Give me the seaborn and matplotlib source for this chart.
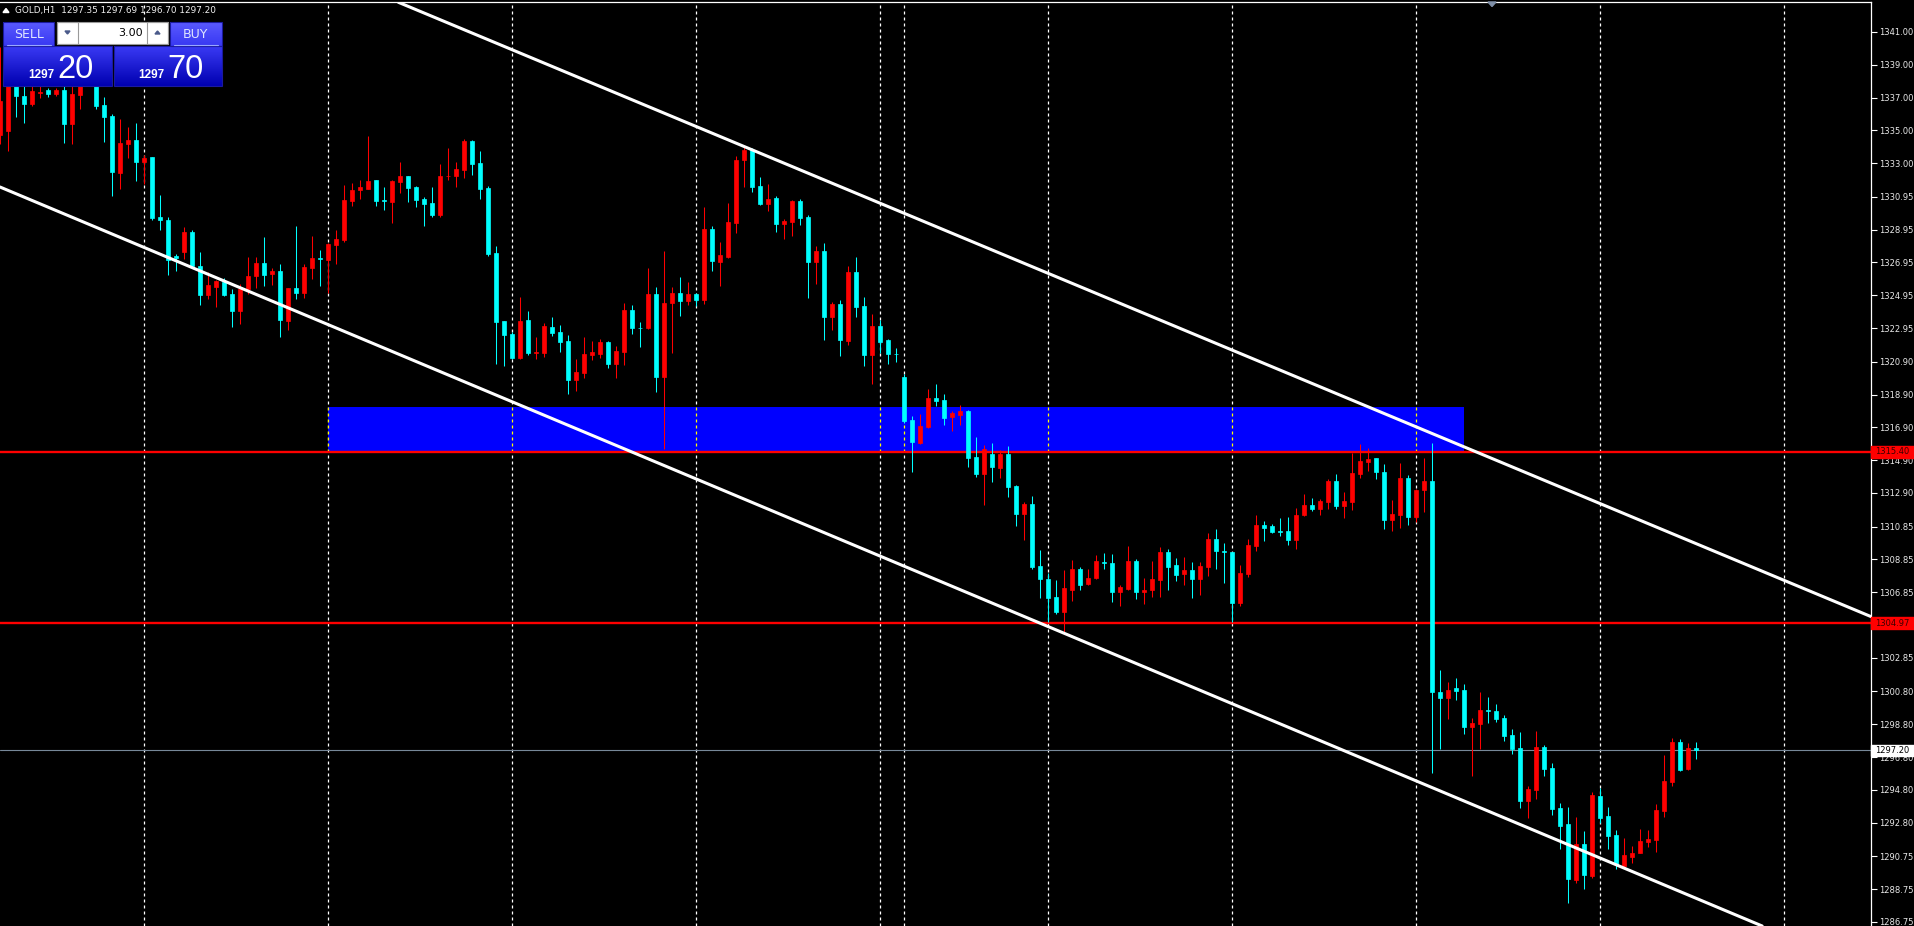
import numpy as np
import matplotlib
matplotlib.use("Agg")
import matplotlib.pyplot as plt
import matplotlib.transforms as mtransforms
from matplotlib.colors import LinearSegmentedColormap
from matplotlib.patches import Rectangle, Polygon
import seaborn as sns

# --- chart data (GOLD, H1) ---
symbol = "GOLD,H1"

opens = [
    1334.70, 1334.96, 1338.00, 1337.10, 1336.61, 1337.28, 1337.44, 1337.20, 1337.44, 1335.39,
    1337.14, 1338.40, 1338.10, 1336.53, 1335.86, 1332.38, 1334.17, 1334.40, 1333.10, 1333.36,
    1329.70, 1329.52, 1327.32, 1327.59, 1328.79, 1326.76, 1324.95, 1325.46, 1325.76, 1325.01,
    1323.98, 1325.36, 1326.13, 1326.90, 1326.27, 1326.41, 1323.39, 1325.38, 1325.09, 1326.64,
    1327.21, 1327.10, 1328.02, 1328.30, 1330.70, 1331.39, 1331.43, 1331.96, 1330.74, 1330.64,
    1331.86, 1332.20, 1331.55, 1330.80, 1330.56, 1329.83, 1332.20, 1332.22, 1332.59, 1334.34,
    1332.99, 1331.49, 1327.51, 1323.37, 1322.58, 1321.11, 1323.43, 1321.42, 1321.42, 1323.00,
    1322.70, 1322.15, 1319.77, 1320.20, 1321.30, 1321.36, 1322.09, 1320.75, 1321.48, 1324.04,
    1322.98, 1322.94, 1325.01, 1319.96, 1324.47, 1325.07, 1324.59, 1325.01, 1324.65, 1328.97,
    1326.96, 1327.27, 1329.34, 1333.18, 1333.79, 1331.60, 1330.50, 1330.86, 1329.28, 1329.40,
    1330.68, 1329.71, 1326.96, 1327.63, 1323.61, 1324.40, 1322.15, 1326.35, 1324.28, 1321.30,
    1323.06, 1322.21, 1321.40, 1319.96, 1317.34, 1315.93, 1316.91, 1318.68, 1318.55, 1317.50,
    1317.64, 1317.90, 1315.08, 1314.06, 1315.26, 1314.43, 1315.26, 1313.31, 1311.63, 1312.22,
    1308.42, 1307.64, 1306.55, 1305.65, 1306.99, 1308.25, 1307.36, 1307.71, 1308.70, 1308.62,
    1306.87, 1307.05, 1308.74, 1306.87, 1306.99, 1307.60, 1309.29, 1308.50, 1307.97, 1308.19,
    1307.66, 1308.40, 1310.08, 1309.37, 1309.29, 1306.20, 1307.97, 1309.67, 1310.94, 1310.88,
    1310.58, 1310.57, 1310.04, 1311.55, 1312.16, 1311.91, 1312.36, 1313.62, 1312.11, 1312.36,
    1314.06, 1314.79, 1315.02, 1314.18, 1311.26, 1311.56, 1313.82, 1311.44, 1313.09, 1313.62,
    1300.78, 1300.41, 1301.00, 1300.88, 1298.64, 1298.83, 1299.66, 1299.60, 1299.18, 1298.14,
    1297.35, 1294.14, 1294.81, 1297.41, 1296.13, 1293.69, 1292.73, 1289.32, 1291.50, 1289.57,
    1294.42, 1293.20, 1292.05, 1290.17, 1290.72, 1290.97, 1291.64, 1291.76, 1293.53, 1295.29,
    1297.71, 1296.09, 1297.35,
]
highs = [
    1340.07, 1338.30, 1338.30, 1337.70, 1337.70, 1337.70, 1337.60, 1337.60, 1337.70, 1337.80,
    1338.50, 1338.90, 1338.60, 1337.04, 1335.98, 1335.72, 1335.19, 1335.43, 1333.52, 1333.40,
    1331.04, 1329.72, 1327.49, 1329.09, 1328.91, 1327.57, 1326.35, 1325.86, 1326.03, 1325.34,
    1325.66, 1327.27, 1327.27, 1328.48, 1326.60, 1326.84, 1325.42, 1329.16, 1326.84, 1328.55,
    1327.69, 1328.12, 1328.91, 1331.65, 1331.78, 1331.96, 1334.64, 1331.96, 1331.53, 1331.96,
    1333.05, 1332.20, 1331.59, 1330.94, 1331.53, 1332.93, 1333.91, 1333.05, 1334.50, 1334.44,
    1333.73, 1331.59, 1327.94, 1323.40, 1322.70, 1324.83, 1323.98, 1322.39, 1323.25, 1323.61,
    1323.12, 1322.52, 1321.05, 1322.39, 1322.15, 1322.27, 1322.15, 1321.84, 1324.47, 1324.34,
    1323.31, 1326.60, 1325.44, 1327.63, 1325.44, 1326.05, 1325.74, 1325.07, 1330.32, 1329.16,
    1328.18, 1330.56, 1333.42, 1333.97, 1333.91, 1332.14, 1331.72, 1330.99, 1329.58, 1330.74,
    1330.80, 1329.83, 1327.94, 1328.12, 1324.53, 1324.65, 1326.72, 1327.27, 1324.83, 1323.79,
    1323.43, 1322.27, 1321.72, 1320.14, 1317.58, 1317.70, 1319.22, 1319.53, 1318.92, 1317.90,
    1318.25, 1317.94, 1316.30, 1315.80, 1315.93, 1315.51, 1315.75, 1313.37, 1312.34, 1312.70,
    1309.41, 1308.03, 1307.58, 1308.19, 1308.80, 1308.38, 1308.25, 1309.11, 1309.23, 1309.17,
    1307.28, 1309.66, 1308.86, 1307.71, 1308.74, 1309.60, 1309.47, 1308.93, 1308.99, 1308.68,
    1308.68, 1310.45, 1310.69, 1309.84, 1309.29, 1308.50, 1310.08, 1311.55, 1311.18, 1311.00,
    1311.36, 1311.42, 1311.97, 1312.83, 1312.58, 1312.52, 1313.74, 1314.04, 1312.95, 1315.32,
    1315.87, 1315.63, 1315.05, 1314.65, 1312.48, 1314.71, 1313.98, 1313.15, 1315.02, 1315.93,
    1302.10, 1301.37, 1301.61, 1301.25, 1299.18, 1300.76, 1300.46, 1300.03, 1299.36, 1298.50,
    1298.32, 1295.03, 1298.38, 1297.53, 1296.43, 1294.00, 1293.75, 1293.14, 1292.29, 1294.67,
    1294.91, 1293.75, 1292.35, 1291.86, 1291.37, 1292.41, 1292.35, 1293.95, 1296.92, 1297.96,
    1297.90, 1297.65, 1297.69,
]
lows = [
    1334.19, 1333.75, 1335.82, 1335.45, 1336.49, 1337.00, 1337.04, 1337.10, 1334.23, 1334.17,
    1336.28, 1337.70, 1336.30, 1334.29, 1331.00, 1331.41, 1333.32, 1331.92, 1331.71, 1329.54,
    1328.91, 1326.19, 1326.43, 1327.15, 1326.68, 1324.36, 1324.73, 1324.24, 1324.91, 1323.02,
    1323.20, 1325.05, 1325.40, 1325.52, 1325.56, 1322.41, 1322.84, 1324.73, 1324.79, 1325.95,
    1325.52, 1325.09, 1326.86, 1328.20, 1330.39, 1330.82, 1331.43, 1330.39, 1330.15, 1329.36,
    1331.19, 1330.64, 1330.33, 1329.18, 1329.72, 1329.72, 1331.99, 1331.53, 1332.10, 1332.26,
    1330.82, 1327.35, 1320.75, 1320.63, 1321.05, 1321.05, 1321.30, 1321.05, 1321.17, 1322.45,
    1321.48, 1318.92, 1319.10, 1319.89, 1320.99, 1321.11, 1320.50, 1319.89, 1320.69, 1322.58,
    1321.78, 1322.88, 1319.04, 1315.57, 1321.42, 1323.67, 1324.34, 1324.28, 1324.40, 1326.42,
    1325.50, 1327.21, 1328.73, 1331.53, 1331.23, 1330.44, 1330.07, 1328.79, 1328.37, 1328.55,
    1329.22, 1324.77, 1325.62, 1322.21, 1322.82, 1321.24, 1321.91, 1323.61, 1320.63, 1319.53,
    1321.42, 1320.75, 1320.87, 1317.15, 1314.18, 1315.87, 1316.85, 1318.19, 1317.03, 1316.68,
    1317.03, 1314.49, 1313.88, 1312.16, 1313.58, 1313.82, 1312.66, 1310.89, 1310.04, 1308.27,
    1306.51, 1305.04, 1305.53, 1304.37, 1306.32, 1306.99, 1307.30, 1307.67, 1308.27, 1306.26,
    1306.02, 1306.99, 1306.45, 1306.14, 1306.57, 1306.57, 1306.99, 1307.54, 1307.30, 1306.51,
    1306.69, 1307.85, 1308.27, 1307.42, 1305.04, 1306.02, 1307.79, 1309.37, 1309.98, 1310.47,
    1310.28, 1309.74, 1309.49, 1311.50, 1311.81, 1311.56, 1311.93, 1311.91, 1311.38, 1311.87,
    1313.84, 1314.25, 1313.76, 1310.71, 1310.59, 1310.77, 1310.95, 1311.10, 1311.75, 1295.84,
    1297.30, 1299.11, 1300.27, 1298.22, 1295.66, 1297.30, 1298.89, 1298.95, 1297.79, 1297.00,
    1293.71, 1293.10, 1294.26, 1295.66, 1293.28, 1291.21, 1287.92, 1289.14, 1288.77, 1289.44,
    1292.79, 1291.21, 1289.99, 1290.11, 1290.36, 1290.95, 1291.33, 1291.03, 1293.16, 1295.05,
    1295.96, 1296.02, 1296.70,
]
closes = [
    1336.80, 1338.00, 1337.10, 1336.61, 1337.38, 1337.32, 1337.20, 1337.44, 1335.39, 1337.20,
    1337.90, 1338.10, 1336.49, 1335.82, 1332.47, 1334.21, 1334.40, 1333.08, 1333.30, 1329.66,
    1329.54, 1327.08, 1327.25, 1328.79, 1326.74, 1324.95, 1325.56, 1325.82, 1324.95, 1323.98,
    1325.34, 1326.11, 1326.90, 1326.19, 1326.41, 1323.45, 1325.38, 1325.09, 1326.66, 1327.21,
    1327.15, 1328.08, 1328.36, 1330.74, 1331.39, 1331.53, 1331.90, 1330.70, 1330.70, 1331.90,
    1332.20, 1331.49, 1330.76, 1330.52, 1329.83, 1332.20, 1332.24, 1332.63, 1334.34, 1332.95,
    1331.43, 1327.47, 1323.33, 1322.52, 1321.11, 1323.37, 1321.42, 1321.48, 1323.06, 1322.64,
    1322.09, 1319.77, 1320.26, 1321.36, 1321.48, 1322.09, 1320.75, 1321.54, 1324.04, 1322.94,
    1322.94, 1325.01, 1319.96, 1324.47, 1325.07, 1324.59, 1325.01, 1324.65, 1328.97, 1327.02,
    1327.39, 1329.40, 1333.18, 1333.79, 1331.53, 1330.50, 1330.80, 1329.28, 1329.46, 1330.68,
    1329.65, 1326.96, 1327.63, 1323.61, 1324.40, 1322.21, 1326.35, 1324.22, 1321.30, 1323.06,
    1322.09, 1321.36, 1321.34, 1317.27, 1316.01, 1316.97, 1318.68, 1318.49, 1317.46, 1317.78,
    1317.88, 1315.04, 1314.06, 1315.60, 1314.49, 1315.26, 1313.27, 1311.63, 1312.22, 1308.36,
    1307.66, 1306.51, 1305.65, 1307.10, 1308.25, 1307.30, 1307.71, 1308.74, 1308.64, 1306.87,
    1307.16, 1308.74, 1306.87, 1306.99, 1307.64, 1309.29, 1308.40, 1307.91, 1308.19, 1307.66,
    1308.44, 1310.08, 1309.37, 1309.31, 1306.20, 1308.01, 1309.72, 1310.94, 1310.77, 1310.53,
    1310.53, 1310.04, 1311.55, 1312.16, 1311.91, 1312.40, 1313.64, 1312.11, 1312.42, 1314.11,
    1314.84, 1314.98, 1314.18, 1311.26, 1311.63, 1313.82, 1311.44, 1313.09, 1313.62, 1300.78,
    1300.41, 1300.88, 1300.84, 1298.64, 1298.87, 1299.66, 1299.60, 1299.13, 1298.10, 1297.30,
    1294.14, 1294.85, 1297.41, 1296.09, 1293.65, 1292.61, 1289.38, 1291.50, 1289.63, 1294.48,
    1293.10, 1292.00, 1290.30, 1290.83, 1290.95, 1291.68, 1291.80, 1293.57, 1295.34, 1297.71,
    1296.02, 1297.35, 1297.20,
]

# day separators (bar index)
separators = [18, 41, 64, 87, 110, 113, 131, 154, 177, 200, 223]

# horizontal levels, supply zone, channel anchors (bar index, price)
level_lines = [1315.40, 1304.97]
current_price = 1297.20
bid_price = 1297.20
ask_price = 1297.70
lot_size = "3.00"
zone_bars = (41, 183)
zone_prices = (1315.40, 1318.15)
upper_channel = [(79, 1336.87), (233, 1305.54)]
lower_channel = [(0, 1331.55), (219, 1286.76)]

price_ticks = [1341.00, 1339.00, 1337.00, 1335.00, 1333.00, 1330.95, 1328.95, 1326.95,
               1324.95, 1322.95, 1320.90, 1318.90, 1316.90, 1314.90, 1312.90, 1310.85,
               1308.85, 1306.85, 1304.85, 1302.85, 1300.80, 1298.80, 1296.80, 1294.80,
               1292.80, 1290.75, 1288.75, 1286.75]

BULL = "#ff0000"
BEAR = "#00ffff"
DASH = (0, (2.4, 2.4))

sns.set_theme(style="dark", rc={"axes.facecolor": "black", "figure.facecolor": "black"})
plt.rcParams["font.family"] = ["DejaVu Sans"]

W, H = 1915, 926
fig = plt.figure(figsize=(W / 100, H / 100), dpi=100, facecolor="black")
ax = fig.add_axes([0, 0, 1871 / W, (H - 2.3) / H])
ax.set_facecolor("black")

x = np.arange(len(opens))
o = np.array(opens)
c = np.array(closes)
hi = np.array(highs)
lo = np.array(lows)
colors = np.where(c >= o, BULL, BEAR)

# period separators
for s in separators:
    ax.axvline(s, color="white", lw=0.9, ls=DASH, zorder=1)

# supply zone
ax.add_patch(Rectangle((zone_bars[0], zone_prices[0]), zone_bars[1] - zone_bars[0],
                       zone_prices[1] - zone_prices[0], color="#0000ff", lw=0, zorder=2))
for s in separators:
    if zone_bars[0] <= s <= zone_bars[1]:
        ax.plot([s, s], zone_prices, color="#ffff00", lw=0.9, ls=DASH, zorder=2.5)

for lvl in level_lines:
    ax.axhline(lvl, color="#ff0000", lw=1.7, zorder=3)
ax.axhline(current_price, color="#778899", lw=0.8, zorder=3)

# candles
ax.vlines(x, lo, hi, colors=colors, lw=0.75, zorder=4)
ax.bar(x, np.abs(c - o), bottom=np.minimum(o, c), width=0.6, color=colors,
       edgecolor=colors, linewidth=0.5, zorder=4.5)

# channel
ax.axline(upper_channel[0], upper_channel[1], color="white", lw=2.2, zorder=5)
ax.axline(lower_channel[0], lower_channel[1], color="white", lw=2.2, zorder=5)

ax.set_xlim(0, 1871 / 8)
ax.set_ylim(1286.50, 1342.81)
ax.set_xticks([])
ax.yaxis.tick_right()
ax.set_yticks(price_ticks)
ax.set_yticklabels([f"{t:.2f}" for t in price_ticks])
ax.tick_params(axis="y", colors="white", labelcolor="#e8e8e8", length=4, width=0.8,
               direction="out", pad=2, labelsize=6)
for side in ["left", "bottom"]:
    ax.spines[side].set_visible(False)
for side in ["right", "top"]:
    ax.spines[side].set_visible(True)
    ax.spines[side].set_color("white")
    ax.spines[side].set_linewidth(0.9)
ax.grid(False)

# price labels on the scale
blend = mtransforms.blended_transform_factory(ax.transAxes, ax.transData)
labels = [(level_lines[0], "#ff0000", "#3a0000"), (level_lines[1], "#ff0000", "#3a0000"),
          (current_price, "white", "black")]
for p, bg, fg in labels:
    ax.add_patch(Rectangle((1.0, p - 0.34), 44 / 1871, 0.68, transform=blend, color=bg,
                           clip_on=False, zorder=20))
    ax.text(1.0 + 4 / 1871, p, f"{p:.2f}", transform=blend, color=fg, fontsize=6,
            va="center", ha="left", zorder=21, clip_on=False)

# overlay in pixel coordinates for the trade panel and header
ov = fig.add_axes([0, 0, 1, 1], zorder=10)
ov.patch.set_alpha(0)
ov.axis("off")


def gradient_box(x0, y0, x1, y1, top, bottom, edge=None):
    cmap = LinearSegmentedColormap.from_list("g", [top, bottom])
    ov.imshow(np.linspace(0, 1, 64).reshape(-1, 1), cmap=cmap, extent=(x0, x1, y1, y0),
              aspect="auto", interpolation="bilinear", zorder=1)
    if edge:
        ov.add_patch(Rectangle((x0, y0), x1 - x0, y1 - y0, fill=False, ec=edge, lw=0.8, zorder=2))


gradient_box(3.3, 22.3, 54.3, 46, "#5a5aff", "#3838f2", "#1a1aa0")
gradient_box(170, 22.3, 221.7, 46, "#5a5aff", "#3838f2", "#1a1aa0")
gradient_box(3.3, 46, 111.7, 85.7, "#3a3af4", "#0000b0", "#1a1aa0")
gradient_box(114, 46, 221.7, 85.7, "#3a3af4", "#0000b0", "#1a1aa0")
ov.add_patch(Rectangle((57.3, 22.3), 110.4, 21.7, fc="white", ec="#9a9a9a", lw=0.8, zorder=2))
gradient_box(57.3, 22.3, 78.3, 44, "#f2f2f2", "#c8c8c8", "#9a9a9a")
gradient_box(147, 22.3, 167.7, 44, "#f2f2f2", "#c8c8c8", "#9a9a9a")
ov.add_patch(Polygon([(65, 31), (70, 31), (67.5, 34)], color="#4a5a8a", zorder=3))
ov.add_patch(Polygon([(155, 34), (160, 34), (157.5, 31)], color="#4a5a8a", zorder=3))
ov.plot([7, 51], [45.3, 45.3], color="#9aa8ff", lw=0.8, zorder=3)
ov.plot([174, 218], [45.3, 45.3], color="#9aa8ff", lw=0.8, zorder=3)

ov.text(28.8, 34, "SELL", color="#dfe6ff", fontsize=9, ha="center", va="center", zorder=4)
ov.text(195.8, 34, "BUY", color="#dfe6ff", fontsize=9, ha="center", va="center", zorder=4)
ov.text(143, 33.5, lot_size, color="black", fontsize=8, ha="right", va="center", zorder=4)

bid_txt, ask_txt = f"{bid_price:.2f}", f"{ask_price:.2f}"
ov.text(54, 77.5, bid_txt[:4], color="white", fontsize=8.5, fontweight="bold",
        family="Liberation Sans", ha="right", va="baseline", zorder=4)
ov.text(57, 77.5, bid_txt[5:], color="white", fontsize=23.5, family="Liberation Sans",
        ha="left", va="baseline", zorder=4)
ov.text(164, 77.5, ask_txt[:4], color="white", fontsize=8.5, fontweight="bold",
        family="Liberation Sans", ha="right", va="baseline", zorder=4)
ov.text(167, 77.5, ask_txt[5:], color="white", fontsize=23.5, family="Liberation Sans",
        ha="left", va="baseline", zorder=4)

header = f"{symbol}  {opens[-1]:.2f} {highs[-1]:.2f} {lows[-1]:.2f} {closes[-1]:.2f}"
ov.add_patch(Polygon([(3, 12.5), (9, 12.5), (6, 8.5)], color="white", zorder=4))
ov.text(15, 10.5, header, color="#f0f0f0", fontsize=6.4, ha="left", va="center", zorder=4)

# chart shift marker
ov.add_patch(Polygon([(1488, 2), (1496, 2), (1492, 6.5)], color="#7f8fa8", zorder=4))

ov.set_xlim(0, W)
ov.set_ylim(H, 0)

fig.savefig("out.png", dpi=100, facecolor="black")
